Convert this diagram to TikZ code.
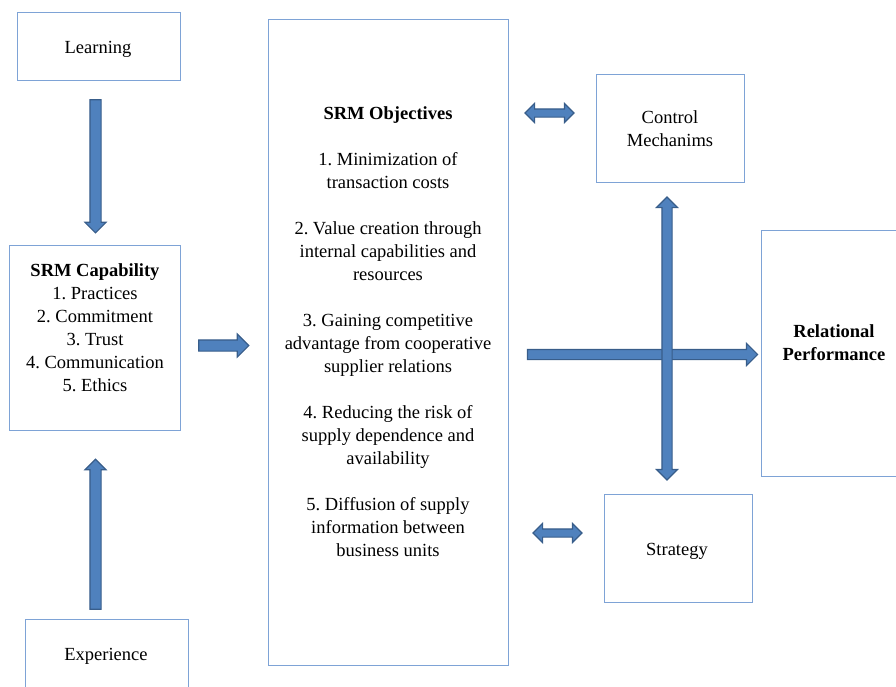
\documentclass[tikz,border=0pt]{standalone}
\usepackage{fontspec}
\setmainfont{Liberation Serif}
\frenchspacing
\usetikzlibrary{shapes.arrows,calc}
\definecolor{arrowfill}{HTML}{4F81BD}
\definecolor{arrowline}{HTML}{385D8A}
\definecolor{boxline}{HTML}{7EA3D6}
\begin{document}
\begin{tikzpicture}[x=1pt,y=-1pt,
  box/.style={draw=boxline, line width=0.8pt, fill=white, inner sep=0pt, outer sep=0pt},
  txt/.style={align=center, font=\fontsize{18.5}{23}\selectfont, inner sep=0pt},
  boldtxt/.style={align=center, font=\fontsize{18.5}{23}\selectfont\bfseries, inner sep=0pt},
  arrowbase/.style={draw=arrowline, fill=arrowfill, line width=1.1pt, inner xsep=0pt,
    minimum width=0pt, outer sep=0pt, sloped, allow upside down},
  onearrow/.style 2 args={arrowbase, single arrow, single arrow head extend=#2, inner ysep=#1},
  twoarrow/.style 2 args={arrowbase, double arrow, double arrow head extend=#2, inner ysep=#1},
]
\useasboundingbox (0,0) rectangle (896,686);
\clip (0,0) rectangle (896,686);

% boxes
\node[box, minimum width=163pt, minimum height=68pt]  (learnbox) at (98.5,46) {};
\node[box, minimum width=171pt, minimum height=185pt] (capbox)   at (94.5,337.5) {};
\node[box, minimum width=163pt, minimum height=101pt] (expbox)   at (106.5,669.5) {};
\node[box, minimum width=240pt, minimum height=646pt] (objbox)   at (388,342) {};
\node[box, minimum width=148pt, minimum height=108pt] (ctrlbox)  at (670,128) {};
\node[box, minimum width=148pt, minimum height=108pt] (stratbox) at (678,548) {};
\node[box, minimum width=159pt, minimum height=246pt] (rpbox)    at (840.5,353) {};

% texts
\node[txt] (learntxt) at (98,49) {Learning};
\node[txt] (exptxt) at (106,656) {Experience};
\node[txt] (captxt) at (95,327.5) {\textbf{SRM Capability}\\1. Practices\\2. Commitment\\3. Trust\\4. Communication\\5. Ethics};
\node[txt] (objtxt) at (388,331.5) {\textbf{SRM Objectives}\\[23pt]
  1. Minimization of\\transaction costs\\[23pt]
  2. Value creation through\\internal capabilities and\\resources\\[23pt]
  3. Gaining competitive\\advantage from cooperative\\supplier relations\\[23pt]
  4. Reducing the risk of\\supply dependence and\\availability\\[23pt]
  5. Diffusion of supply\\information between\\business units};
\node[txt] (ctrltxt) at (670,128.5) {Control\\Mechanims};
\node[txt] (strattxt) at (677,551) {Strategy};
\node[boldtxt] (rptxt) at (834,342.5) {Relational\\Performance};

% arrow end points
\coordinate (lc1) at (95.5,97);  \coordinate (lc2) at (95.5,230);
\coordinate (ec1) at (95.5,612); \coordinate (ec2) at (95.5,462);
\coordinate (co1) at (196,345.5); \coordinate (co2) at (246,345.5);
\coordinate (oc1) at (525,113);  \coordinate (oc2) at (574,113);
\coordinate (os1) at (533,533);  \coordinate (os2) at (582,533);
\coordinate (or1) at (525,354.5); \coordinate (or2) at (755,354.5);
\coordinate (cs1) at (667,197);  \coordinate (cs2) at (667,480);

% block arrows
\path let \p1=($(lc2)-(lc1)$), \n1={veclen(\x1,\y1)} in
  (lc1) -- (lc2) node[midway, onearrow={5pt}{5pt}, minimum height=\n1] (arlc) {};
\path let \p1=($(ec2)-(ec1)$), \n1={veclen(\x1,\y1)} in
  (ec1) -- (ec2) node[midway, onearrow={5pt}{5pt}, minimum height=\n1] (arec) {};
\path let \p1=($(co2)-(co1)$), \n1={veclen(\x1,\y1)} in
  (co1) -- (co2) node[midway, onearrow={5pt}{6pt}, minimum height=\n1] (arco) {};
\path let \p1=($(oc2)-(oc1)$), \n1={veclen(\x1,\y1)} in
  (oc1) -- (oc2) node[midway, twoarrow={3.5pt}{5.5pt}, minimum height=\n1] (aroc) {};
\path let \p1=($(os2)-(os1)$), \n1={veclen(\x1,\y1)} in
  (os1) -- (os2) node[midway, twoarrow={3.5pt}{5.5pt}, minimum height=\n1] (aros) {};
\path let \p1=($(or2)-(or1)$), \n1={veclen(\x1,\y1)} in
  (or1) -- (or2) node[midway, onearrow={4.5pt}{6pt}, minimum height=\n1] (aror) {};
\path let \p1=($(cs2)-(cs1)$), \n1={veclen(\x1,\y1)} in
  (cs1) -- (cs2) node[midway, twoarrow={4.5pt}{5.5pt}, minimum height=\n1] (arcs) {};
\end{tikzpicture}
\end{document}
